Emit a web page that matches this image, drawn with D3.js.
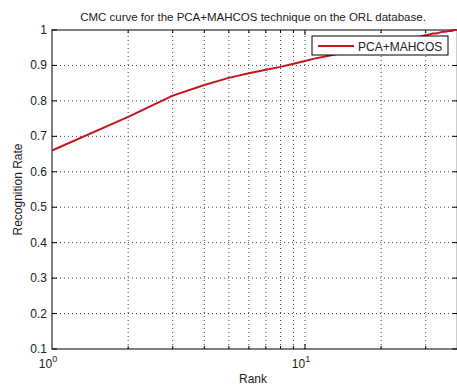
<!DOCTYPE html>
<html>
<head>
<meta charset="utf-8">
<script src="https://cdn.jsdelivr.net/npm/d3@7"></script>
<style>
  body { margin: 0; background: #fff; }
  svg { display: block; font-family: "Liberation Sans", Arial, sans-serif; }
</style>
</head>
<body>
<div class="chart"></div>
<script>
// CMC curve values (ranks 11-29 hidden by legend, estimated)
const ranks = d3.range(1, 41);
const rates = [0.66, 0.755, 0.815, 0.845, 0.865, 0.878, 0.888, 0.896, 0.905, 0.9125,
               0.92, 0.925, 0.93, 0.935, 0.9375, 0.94, 0.945, 0.9475, 0.95, 0.955,
               0.9575, 0.96, 0.9625, 0.965, 0.97, 0.9725, 0.975, 0.98, 0.9825, 0.985,
               0.9875, 0.99, 0.99, 0.9925, 0.995, 0.995, 0.9975, 0.9975, 1.0, 1.0];
const xGridTicks = [2, 3, 4, 5, 6, 7, 8, 9, 10, 20, 30];
const xMajorTicks = [1, 10];
const yTicks = [0.1, 0.2, 0.3, 0.4, 0.5, 0.6, 0.7, 0.8, 0.9, 1];
const seriesName = "PCA+MAHCOS";

const svg_width = 457, svg_height = 387;
const margin = {top: 30, left: 52};
const chart_width = 405.3, chart_height = 319;

const svg = d3.select(".chart").append("svg")
  .attr("width", svg_width).attr("height", svg_height);

const x = d3.scaleLog().domain([1, 40]).range([margin.left, margin.left + chart_width]);
const y = d3.scaleLinear().domain([0.1, 1]).range([margin.top + chart_height, margin.top]);

const g = svg.append("g");

// grid
g.selectAll(".xgrid").data(xGridTicks).enter().append("line")
  .attr("x1", d => x(d)).attr("x2", d => x(d))
  .attr("y1", y(0.1)).attr("y2", y(1))
  .attr("stroke", "#444").attr("stroke-width", 1).attr("stroke-dasharray", "1,3");
g.selectAll(".ygrid").data(yTicks.slice(1, -1)).enter().append("line")
  .attr("x1", x(1)).attr("x2", x(40))
  .attr("y1", d => y(d)).attr("y2", d => y(d))
  .attr("stroke", "#444").attr("stroke-width", 1).attr("stroke-dasharray", "1,3");

// inward ticks
g.selectAll(".ytick").data(yTicks).enter().append("line")
  .attr("x1", x(1)).attr("x2", x(1) + 5)
  .attr("y1", d => y(d)).attr("y2", d => y(d)).attr("stroke", "#000");
g.selectAll(".ytickr").data(yTicks).enter().append("line")
  .attr("x1", x(40)).attr("x2", x(40) - 5)
  .attr("y1", d => y(d)).attr("y2", d => y(d)).attr("stroke", "#000");
g.selectAll(".xtick").data(xGridTicks).enter().append("line")
  .attr("x1", d => x(d)).attr("x2", d => x(d))
  .attr("y1", y(0.1)).attr("y2", d => y(0.1) - (d === 10 ? 5 : 3)).attr("stroke", "#000");
g.selectAll(".xtickt").data(xGridTicks).enter().append("line")
  .attr("x1", d => x(d)).attr("x2", d => x(d))
  .attr("y1", y(1)).attr("y2", d => y(1) + (d === 10 ? 5 : 3)).attr("stroke", "#000");

// axes box
g.append("rect")
  .attr("x", x(1)).attr("y", y(1))
  .attr("width", x(40) - x(1)).attr("height", y(0.1) - y(1))
  .attr("fill", "none").attr("stroke", "#000").attr("stroke-width", 1);

// y tick labels
g.selectAll(".ylab").data(yTicks).enter().append("text")
  .attr("x", x(1) - 5).attr("y", d => y(d) + 4)
  .attr("text-anchor", "end").attr("font-size", 12).attr("fill", "#222")
  .text(d => d === 1 ? "1" : d3.format(".1f")(d));

// x tick labels with superscripts
const xl = g.selectAll(".xlab").data(xMajorTicks).enter().append("text")
  .attr("x", d => x(d) - 4).attr("y", y(0.1) + 19)
  .attr("text-anchor", "middle").attr("font-size", 12).attr("fill", "#222");
xl.append("tspan").text("10");
xl.append("tspan").attr("dy", -6).attr("font-size", 9).text(d => Math.round(Math.log10(d)));

// curve
const line = d3.line().x((d, i) => x(ranks[i])).y(d => y(d));
g.append("path").datum(rates)
  .attr("d", line).attr("fill", "none")
  .attr("stroke", "#c4161c").attr("stroke-width", 2);

// legend
const leg = g.append("g").attr("transform", "translate(312,36)");
leg.append("rect").attr("width", 136).attr("height", 19)
  .attr("fill", "#fff").attr("stroke", "#000");
leg.append("line").attr("x1", 6).attr("x2", 42).attr("y1", 10).attr("y2", 10)
  .attr("stroke", "#c4161c").attr("stroke-width", 2);
leg.append("text").attr("x", 46).attr("y", 14.5).attr("font-size", 12).attr("fill", "#222")
  .text(seriesName);

// title and labels
svg.append("text").attr("x", 253).attr("y", 21).attr("text-anchor", "middle")
  .attr("font-size", 11.5).attr("fill", "#222")
  .text("CMC curve for the PCA+MAHCOS technique on the ORL database.");
svg.append("text").attr("x", 253).attr("y", 383).attr("text-anchor", "middle")
  .attr("font-size", 12).attr("fill", "#222").text("Rank");
svg.append("text")
  .attr("transform", `translate(22,${y(0.55)}) rotate(-90)`)
  .attr("text-anchor", "middle").attr("font-size", 12).attr("fill", "#222")
  .text("Recognition Rate");
</script>
</body>
</html>
